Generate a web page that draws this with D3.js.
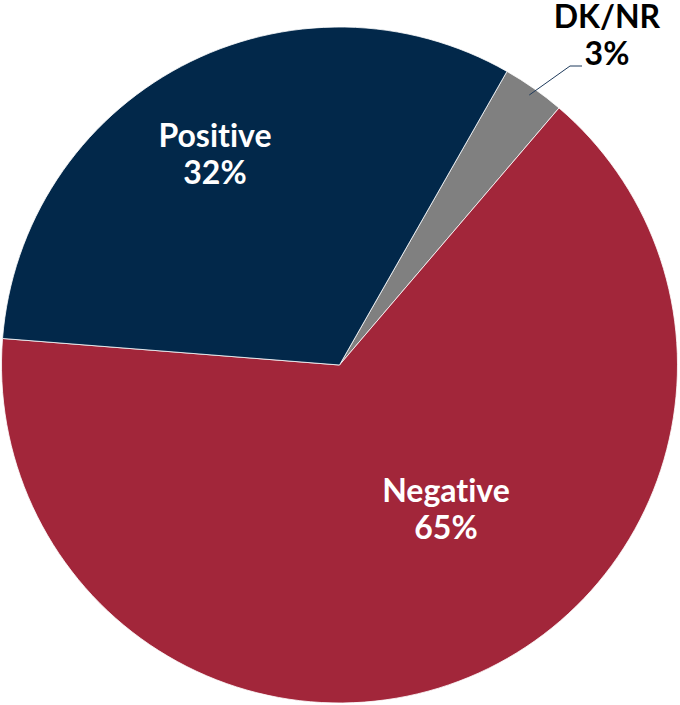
<!DOCTYPE html>
<html>
<head>
<meta charset="utf-8">
<script src="https://cdn.jsdelivr.net/npm/d3@7"></script>
<style>
html,body{margin:0;padding:0;background:#fff;}
svg{display:block;}
text{font-variant-ligatures:none;font-feature-settings:"liga" 0;}
</style>
</head>
<body>
<svg id="chart" width="680" height="705"></svg>
<script>
const categories = ["DK/NR", "Negative", "Positive"];
const values = [3, 65, 32];
const percentLabels = ["3%", "65%", "32%"];
const colors = ["#808080", "#A2263A", "#02284A"];

const svg = d3.select("#chart");
const cx = 339.5, cy = 365, r = 338;
const startDeg = 29.7;
const g = svg.append("g").attr("transform", `translate(${cx},${cy})`);

const pie = d3.pie().sort(null).value(d => d)
  .startAngle(startDeg * Math.PI / 180)
  .endAngle(startDeg * Math.PI / 180 + 2 * Math.PI);
const arcs = pie(values);
const arc = d3.arc().innerRadius(0).outerRadius(r);

g.selectAll("path").data(arcs).enter().append("path")
  .attr("d", arc)
  .attr("fill", (d, i) => colors[i])
  .attr("stroke", "#ffffff")
  .attr("stroke-width", 0.8);

const font = "Lato, 'Open Sans', sans-serif";
const labelPos = [
  {x: 607, y: 28, fill: "#000"},
  {x: 446, y: 502, fill: "#fff"},
  {x: 215, y: 147, fill: "#fff"}
];
const lineGap = 37;
categories.forEach((c, i) => {
  const p = labelPos[i];
  const t = svg.append("text")
    .attr("text-anchor", "middle")
    .attr("font-family", font)
    .attr("font-weight", "bold")
    .attr("font-size", 32)
    .attr("fill", p.fill);
  t.append("tspan").attr("x", p.x).attr("y", p.y).text(c);
  t.append("tspan").attr("x", p.x).attr("y", p.y + lineGap).text(percentLabels[i]);
});

// leader line for DK/NR
const dk = arcs[0];
const mid = (dk.startAngle + dk.endAngle) / 2;
const sx = cx + Math.sin(mid) * (r - 8), sy = cy - Math.cos(mid) * (r - 8);
svg.append("polyline")
  .attr("points", `${sx},${sy} 570,66 582,66`)
  .attr("fill", "none")
  .attr("stroke", "#1F3B5C")
  .attr("stroke-width", 1);
</script>
</body>
</html>
